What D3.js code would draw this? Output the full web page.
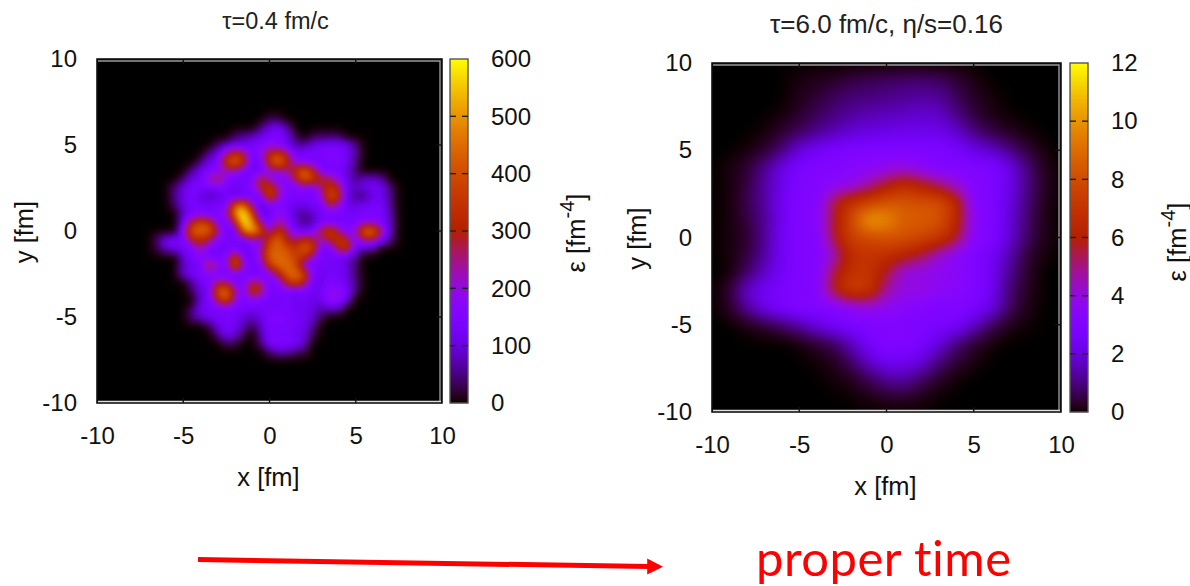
<!DOCTYPE html>
<html><head><meta charset="utf-8">
<script src="https://cdn.jsdelivr.net/npm/d3@7"></script>
<style>html,body{margin:0;background:#fff}svg{display:block;font-family:"Liberation Sans",Arial,sans-serif}</style>
</head><body><svg id="c" width="1190" height="586"></svg>
<script>
// each row: [x of first value, then epsilon values at 0.5 fm spacing]; rows run y = 7 ... -7.5
const leftRows = [
[-7],
[0,30,30],
[-0.5,50,100,120,70],
[-2,40,60,80,110,130,150,110,40,0,30,40,40,40],
[-3,40,80,120,120,130,150,180,170,120,70,70,100,120,130,130,110,50],
[-3.5,60,110,240,320,270,130,190,300,340,270,130,140,140,140,150,140,120,60],
[-4,50,110,150,340,420,320,130,150,340,440,320,190,170,140,140,140,150,120,50],
[-4.5,60,110,150,180,220,220,160,120,140,200,220,240,320,420,320,160,140,130,100,40],
[-5,50,110,130,210,270,170,130,130,150,300,220,160,170,260,400,340,300,270,190,110,60,90,90,70],
[-5.5,50,100,140,140,130,150,140,130,140,170,280,340,240,150,150,170,160,240,340,280,110,90,100,120,110,50],
[-5.5,50,110,140,110,80,100,130,120,140,140,150,370,220,150,140,150,140,200,380,320,110,60,60,110,120,50],
[-5.5,40,100,140,130,130,140,160,400,440,230,100,150,150,140,110,110,130,140,270,200,120,110,120,130,130,60],
[-5,90,140,160,140,140,210,460,590,370,120,130,190,150,90,60,90,130,140,140,130,130,140,140,140,70],
[-5,120,290,370,330,170,130,300,570,490,230,140,240,180,100,60,80,140,150,140,140,140,190,180,140,80],
[-5,180,400,430,410,260,130,150,440,510,380,220,340,250,150,130,150,280,360,250,150,220,420,430,250,80],
[-6.5,40,110,130,140,300,320,280,160,150,140,150,220,200,340,430,300,250,320,280,220,290,340,290,150,270,250,150,60],
[-6.5,30,90,110,130,150,240,150,140,120,140,120,140,220,400,430,400,340,410,360,150,150,290,340,130,90,70],
[-5,100,140,170,150,130,170,340,150,130,220,420,440,430,370,340,220,140,130,130,110,60],
[-5,80,120,140,290,200,160,410,200,130,170,340,430,440,400,200,140,130,130,130,100,40],
[-5,90,120,140,170,150,140,150,140,130,140,180,280,420,440,370,160,120,130,130,100,40],
[-4.5,60,120,150,250,250,160,150,270,230,140,170,300,370,290,130,120,150,140,110,50],
[-4.5,40,100,150,380,430,250,150,340,270,140,140,150,140,140,120,130,170,180,130,40],
[-4,100,140,290,390,200,140,170,150,130,130,140,120,130,110,120,180,180,100],
[-4.5,40,110,130,140,150,140,130,130,130,130,130,140,120,120,100,70,90,80],
[-4.5,50,90,120,130,140,130,100,80,110,140,150,140,130,120,90,40],
[-3.5,40,100,130,120,70,40,90,140,140,140,130,110,60],
[-3,60,120,90,40,0,70,140,130,130,120,100,40],
[-2.5,40,30,0,0,50,130,140,140,130,90],
[0,50,80,80,50,30],
[-7]
];
// each row: [x of first value, then epsilon values at 1 fm spacing]; rows run y = 10 ... -10
const rightRows = [
[-10],
[-5,.1,.2,.3,.5,.6,.7,.8,.8,.7,.4,.15],
[-5,.2,.4,.7,.9,1,1.1,1.2,1.3,1.2,.7,.3,.1],
[-6,.1,.35,.7,1,1.3,1.5,1.6,1.7,1.8,1.7,1.1,.5,.2,.05],
[-7,.1,.4,.8,1.2,1.6,1.9,2.1,2.2,2.3,2.3,2.2,1.8,1.1,.6,.3,.1],
[-8,.1,.4,1,1.9,2.4,2.7,2.9,3,3,3,3,2.9,2.6,2.1,1.7,1.1,.5,.1],
[-9,.1,.4,1.1,2,2.7,3,3.1,3.3,3.5,3.8,4,3.6,3.2,3.1,3,2.8,2.1,1,.25],
[-9,.1,.5,1.3,2.2,2.9,3.1,3.6,4,4.8,5.8,6.5,6,5.2,4.2,3.2,2.9,2.2,1.1,.3],
[-9,.1,.6,1.3,2.3,3,3.2,5.4,6.8,7.6,8.2,8.2,8,7.8,6.2,3.4,2.9,2.1,1,.25],
[-9,.1,.5,1.2,2.3,3,3.4,5.6,7.8,9.7,9.5,8.6,8.4,8,6.3,3.6,2.9,2,.9,.2],
[-9,.1,.4,1.2,2.4,3,3.2,5.5,7.4,8,8.2,8,7.6,7,5.6,3.4,2.9,1.9,.8,.2],
[-9,.1,.5,1.3,2.4,3,3.1,4.6,6.6,7,6.8,6.2,5.5,4.4,3.6,3,2.5,1.5,.5,.1],
[-9,.1,.8,1.7,2.5,3,3.2,5.4,6.8,6.9,5.6,4.2,3.9,3.7,3.5,3,2.4,1.2,.4],
[-9,.4,1.6,2.3,2.7,3,3.2,5.6,7,6.7,4.8,4,3.9,3.6,3.3,3,2.3,1,.3],
[-9,.3,1.2,2.1,2.6,2.9,3,3.2,3.8,4,3.7,3.4,3.2,3,3,2.7,2,.8,.2],
[-8,.2,.5,.9,1.4,2,2.5,2.8,3,3.1,3,2.9,2.8,2.5,1.7,.8,.25,.05],
[-5,.2,.5,.9,1.7,2.6,3,3,2.7,2,1.1,.5,.15],
[-4,.1,.3,.9,1.8,2.4,2.4,2,1.1,.5,.15],
[-3,.1,.3,.8,1.3,1.4,.9,.4,.1],
[-2,.05,.2,.4,.45,.25,.05],
[-10]
];
const axisTicks = [-10,-5,0,5,10];
const leftBarTicks = [0,100,200,300,400,500,600];
const rightBarTicks = [0,2,4,6,8,10,12];

const svg = d3.select("#c");
const font = 24, labelFont = 25.5;

// gnuplot rgbformulae 7,5,15
const pm3d = t => {
  t = Math.max(0,Math.min(1,t));
  return [Math.sqrt(t)*255, t*t*t*255, Math.max(0,Math.sin(2*Math.PI*t))*255];
};
const cr = (a,b,c,d,t) => 0.5*(2*b+(c-a)*t+(2*a-5*b+4*c-d)*t*t+(3*b-a-3*c+d)*t*t*t);

function field(rows, step, xMin, yMax) {
  const lookup = (ix,iy) => {
    if(iy<0||iy>=rows.length) return 0;
    const r = rows[iy];
    const k = ix - Math.round((r[0]-xMin)/step);
    return (k>=0 && k<r.length-1) ? r[k+1] : 0;
  };
  return (x,y) => {
    const fx=(x-xMin)/step, fy=(yMax-y)/step;
    const ix=Math.floor(fx), iy=Math.floor(fy), tx=fx-ix, ty=fy-iy;
    const col=[-1,0,1,2].map(j=>cr(lookup(ix-1,iy+j),lookup(ix,iy+j),lookup(ix+1,iy+j),lookup(ix+2,iy+j),tx));
    return Math.max(0,cr(col[0],col[1],col[2],col[3],ty));
  };
}

function panel(o){
  const x=d3.scaleLinear().domain([-10,10]).range([o.l,o.r]);
  const y=d3.scaleLinear().domain([-10,10]).range([o.b,o.t]);
  const c=d3.scaleLinear().domain([0,o.max]).range([0,1]);
  const bar=d3.scaleLinear().domain([0,o.max]).range([o.b,o.t]);
  const w=Math.round(o.r-o.l), h=Math.round(o.b-o.t);
  const cv=document.createElement("canvas"); cv.width=w; cv.height=h;
  const ctx=cv.getContext("2d"), img=ctx.createImageData(w,h);
  const f=field(o.rows,o.step,o.xMin,o.yMax);
  const vals=new Float64Array(w*h);
  for(let j=0;j<h;j++)for(let i=0;i<w;i++) vals[j*w+i]=f(x.invert(o.l+i+.5),y.invert(o.t+j+.5));
  d3.blur2({data:vals,width:w,height:h},o.blurV);
  for(let p=0;p<w*h;p++){
    const rgb=pm3d(c(vals[p]));
    img.data[p*4]=rgb[0];img.data[p*4+1]=rgb[1];img.data[p*4+2]=rgb[2];img.data[p*4+3]=255;
  }
  d3.blurImage(img,o.blurC);
  ctx.putImageData(img,0,0);
  svg.append("image").attr("x",o.l).attr("y",o.t).attr("width",w).attr("height",h).attr("href",cv.toDataURL());
  // colour bar
  const bh=Math.round(o.b-o.t);
  svg.append("g").selectAll("rect").data(d3.range(bh)).join("rect")
    .attr("x",o.bl).attr("width",o.br-o.bl).attr("y",d=>o.t+d).attr("height",1.2)
    .attr("fill",d=>{const r=pm3d(c(bar.invert(o.t+d+.5)));return `rgb(${r.map(Math.round)})`;});
  // frames
  svg.append("rect").attr("x",o.l).attr("y",o.t).attr("width",o.r-o.l).attr("height",o.b-o.t).attr("fill","none").attr("stroke","#111").attr("stroke-width",1.6);
  svg.append("path").attr("d",`M${o.l+1},${o.t+2}H${o.r-2}V${o.b-2}`).attr("fill","none").attr("stroke","#999").attr("stroke-width",1.4);
  svg.append("path").attr("d",`M${o.l+1},${o.b-1.5}H${o.r-1}`).attr("stroke","#ddd").attr("stroke-width",1.4);
  svg.append("rect").attr("x",o.bl).attr("y",o.t).attr("width",o.br-o.bl).attr("height",o.b-o.t).attr("fill","none").attr("stroke","#555").attr("stroke-width",1.4);
  // inner ticks on the frame
  const fr=svg.append("g").attr("stroke","#111").attr("stroke-width",1.4);
  const inner=axisTicks.slice(1,-1);
  fr.selectAll("line.bt").data(inner).join("line").attr("x1",x).attr("x2",x).attr("y1",o.b-5).attr("y2",o.b);
  fr.selectAll("line.tp").data(inner).join("line").attr("x1",x).attr("x2",x).attr("y1",o.t).attr("y2",o.t+5);
  fr.selectAll("line.rg").data(inner).join("line").attr("x1",o.r-6).attr("x2",o.r).attr("y1",y).attr("y2",y);
  // axes
  const style=g=>{g.select(".domain").remove();g.selectAll("text").attr("font-size",font).attr("font-family","inherit").attr("fill","#111");};
  const fmt=d=>String(d);
  svg.append("g").attr("transform",`translate(0,${o.b})`).call(d3.axisBottom(x).tickValues(axisTicks).tickFormat(fmt).tickSize(0).tickPadding(24)).call(style);
  svg.append("g").attr("transform",`translate(${o.l},0)`).call(d3.axisLeft(y).tickValues(axisTicks).tickFormat(fmt).tickSize(0).tickPadding(20)).call(style);
  svg.append("g").attr("transform",`translate(${o.br},0)`).call(d3.axisRight(bar).tickValues(o.barTicks).tickSize(0).tickPadding(23)).call(style);
  const tk=svg.append("g").attr("stroke","#222").attr("stroke-width",1.4);
  tk.selectAll("line.a").data(o.barTicks.slice(1,-1)).join("line").attr("x1",o.bl).attr("x2",o.bl+6).attr("y1",bar).attr("y2",bar);
  tk.selectAll("line.b").data(o.barTicks.slice(1,-1)).join("line").attr("x1",o.br-6).attr("x2",o.br).attr("y1",bar).attr("y2",bar);
  // labels
  svg.append("text").attr("x",o.titleX).attr("y",o.titleY).attr("text-anchor","middle").attr("font-size",o.titleFont).attr("fill","#222").text(o.title);
  svg.append("text").attr("x",(o.l+o.r)/2-1).attr("y",o.b+83).attr("text-anchor","middle").attr("font-size",labelFont).attr("fill","#111").text("x [fm]");
  svg.append("text").attr("transform",`translate(${o.l-o.yLab},${(o.t+o.b)/2+1}) rotate(-90)`).attr("text-anchor","middle").attr("font-size",labelFont).attr("fill","#111").text("y [fm]");
  const e=svg.append("text").attr("transform",`translate(${o.eX},${o.eY}) rotate(-90)`).attr("text-anchor","middle").attr("font-size",labelFont).attr("fill","#111");
  e.append("tspan").text("ε [fm");
  e.append("tspan").attr("dy",-11).attr("font-size",20).text("-4");
  e.append("tspan").attr("dy",11).text("]");
}

panel({rows:leftRows,step:.5,xMin:-7,yMax:7,max:600,l:97,r:442,t:59,b:403,bl:450,br:468,barTicks:leftBarTicks,title:"τ=0.4 fm/c",titleX:275.5,titleY:29,titleFont:23.5,yLab:64,eX:585,eY:233,blurV:2.5,blurC:1.5});
panel({rows:rightRows,step:1,xMin:-10,yMax:10,max:12,l:712,r:1061,t:63,b:412,bl:1070,br:1088,barTicks:rightBarTicks,title:"τ=6.0 fm/c, η/s=0.16",titleX:886.5,titleY:33,titleFont:26,yLab:66,eX:1186,eY:242,blurV:4,blurC:2});

// proper-time arrow
const arrowX=d3.scaleLinear().domain([0,1]).range([198,663]);
const arrowY=d3.scaleLinear().domain([0,1]).range([559.5,566.8]);
svg.append("line").attr("x1",arrowX(0)).attr("y1",arrowY(0)).attr("x2",arrowX(.97)).attr("y2",arrowY(.97)).attr("stroke","#f00").attr("stroke-width",5);
svg.append("path").attr("d",`M${arrowX(1)},${arrowY(1)}L${arrowX(.966)},${arrowY(.966)-8}V${arrowY(.966)+8}Z`).attr("fill","#f00");
svg.append("text").attr("x",756).attr("y",576).attr("font-family","Lato").attr("font-size",49).attr("fill","#f00").attr("textLength",255).style("font-variant-ligatures","none").text("proper time");
</script></body></html>
